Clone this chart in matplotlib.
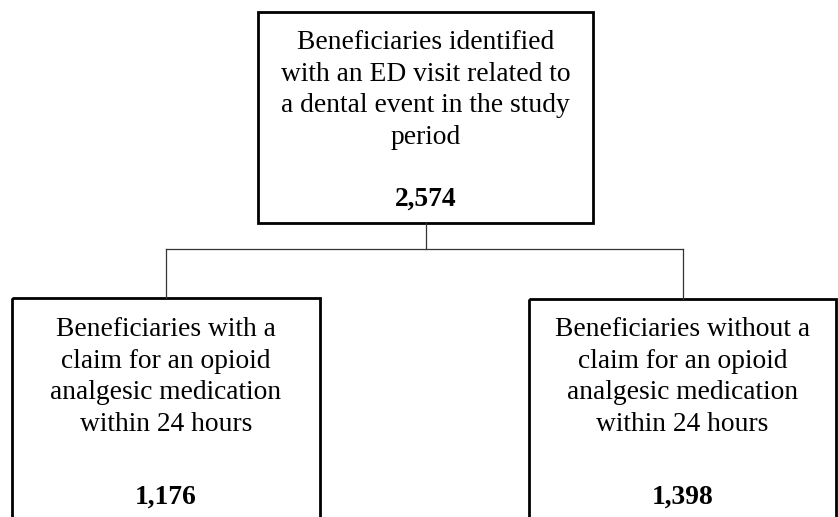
"""Flowchart of beneficiaries with dental-related ED visits."""

from matplotlib import pyplot as plt
from matplotlib.patches import Rectangle

# Box contents
box_labels = [
    "Beneficiaries identified\nwith an ED visit related to\na dental event in the study\nperiod",
    "Beneficiaries with a\nclaim for an opioid\nanalgesic medication\nwithin 24 hours",
    "Beneficiaries without a\nclaim for an opioid\nanalgesic medication\nwithin 24 hours",
]
box_counts = [2574, 1176, 1398]

# Layout in pixel coordinates (x0, y0, x1, y1), y grows downward
box_extents = [
    (258, 12, 593, 223),
    (12, 298, 320, 540),
    (529, 299, 836, 540),
]
text_center = [90, 377, 377]
count_y = [199, 497, 497]
branch_y = 249

plt.rcParams["font.family"] = ["Liberation Serif", "DejaVu Serif"]

figure = plt.figure(figsize=(8.38, 5.17), dpi=100)
axis = figure.add_axes([0, 0, 1, 1])
axis.set_xlim(0, 838)
axis.set_ylim(517, 0)
axis.axis("off")

for (x0, y0, x1, y1), label, count, ty, cy in zip(
    box_extents, box_labels, box_counts, text_center, count_y
):
    axis.add_patch(
        Rectangle((x0, y0), x1 - x0, y1 - y0, fill=False, edgecolor="black", linewidth=2.0)
    )
    cx = (x0 + x1) / 2
    axis.text(cx, ty, label, ha="center", va="center", fontsize=19.8, linespacing=1.36)
    axis.text(cx, cy, f"{count:,}", ha="center", va="center", fontsize=19.8, fontweight="bold")

# Connectors
parent = box_extents[0]
parent_cx = (parent[0] + parent[2]) / 2
child_cx = [(b[0] + b[2]) / 2 for b in box_extents[1:]]
line_style = dict(color="#333333", linewidth=0.9)
axis.plot([parent_cx, parent_cx], [parent[3], branch_y], **line_style)
axis.plot([min(child_cx), max(child_cx)], [branch_y, branch_y], **line_style)
for cx, box in zip(child_cx, box_extents[1:]):
    axis.plot([cx, cx], [branch_y, box[1]], **line_style)

figure.savefig("out.png", dpi=100)
